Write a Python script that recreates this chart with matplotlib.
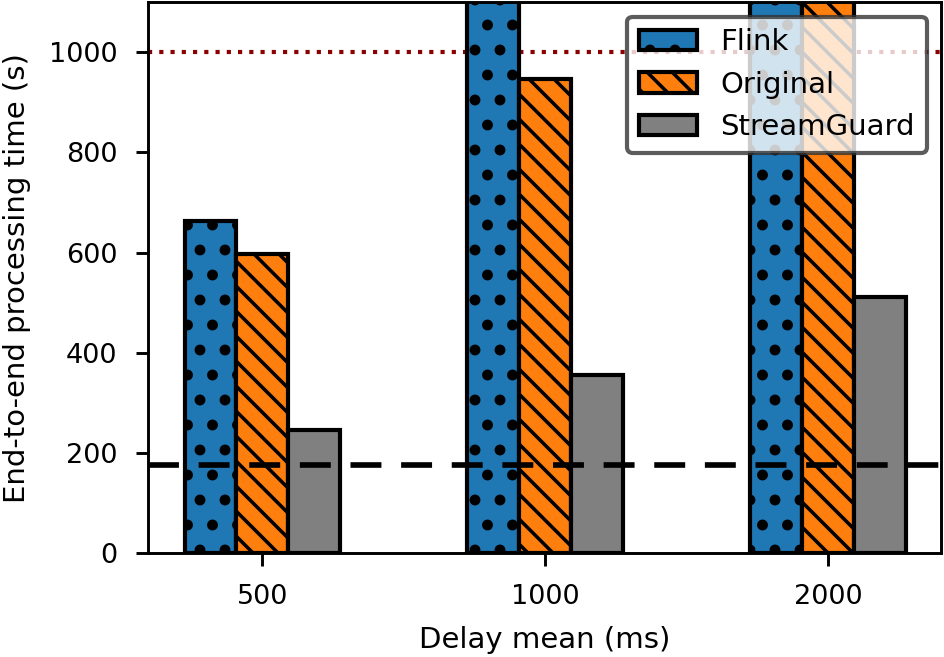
import matplotlib
matplotlib.use("Agg")
import matplotlib.pyplot as plt
import numpy as np

# delay mean settings (ms)
delays = ["500", "1000", "2000"]

# end-to-end processing time (s); values above 1100 are clipped in the figure
flink = [663, 1400, 1600]
original = [598, 946, 1300]
streamguard = [246, 356, 511]

baseline = 175
timeout = 1000

plt.rcParams["hatch.linewidth"] = 1.7
plt.rcParams["axes.linewidth"] = 1.4
plt.rcParams["font.size"] = 14

fig, ax = plt.subplots(figsize=(944 / 150, 657 / 150), dpi=150)
fig.subplots_adjust(left=0.157, right=0.997, top=0.997, bottom=0.158)

x = np.arange(len(delays))
w = 0.183

ax.axhline(timeout, color="darkred", linestyle=(0, (1, 1.7)), linewidth=2, zorder=1)
b1 = ax.bar(x - w, flink, w, color="tab:blue", edgecolor="black", linewidth=2, hatch=".", label="Flink", zorder=2)
b2 = ax.bar(x, original, w, color="tab:orange", edgecolor="black", linewidth=2, hatch="\\\\", label="Original", zorder=2)
b3 = ax.bar(x + w, streamguard, w, color="gray", edgecolor="black", linewidth=2, label="StreamGuard", zorder=2)
ax.axhline(baseline, color="black", linestyle=(0, (5.5, 3.5)), linewidth=2.7, zorder=3)

# bigger dots for the Flink hatch
for p in b1:
    try:
        p.set_hatch_linewidth(2.8)
    except AttributeError:
        pass

ax.set_xticks(x)
ax.set_xticklabels(delays)
ax.set_xlim(-0.403, 2.4)
ax.set_ylim(0, 1100)
ax.set_yticks([0, 200, 400, 600, 800, 1000])
ax.tick_params(width=1.4, length=6, labelsize=13, pad=8.8)

ax.set_xlabel("Delay mean (ms)", labelpad=7.5)
ax.set_ylabel("End-to-end processing time (s)", labelpad=8.5)

leg = ax.legend(loc="upper right", fontsize=14)
leg.get_frame().set_edgecolor("#333333")
leg.get_frame().set_linewidth(2)
leg.set_zorder(5)
try:
    leg.legend_handles[0].set_hatch_linewidth(2.8)
except AttributeError:
    pass

plt.savefig("out.png", dpi=150)
